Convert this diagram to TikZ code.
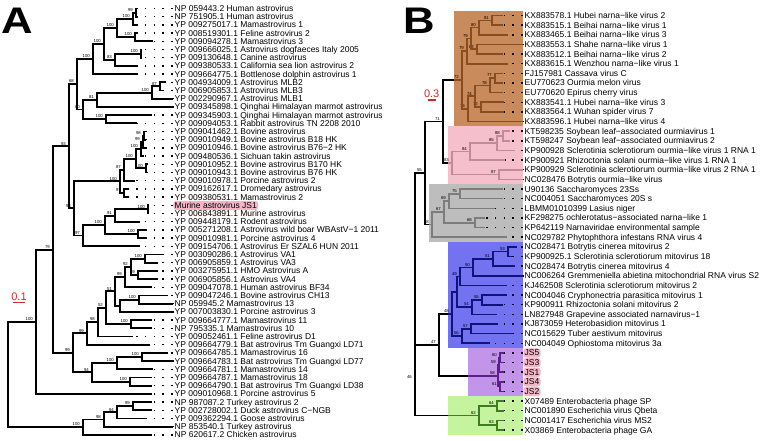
\documentclass[tikz,border=0pt]{standalone}
\usepackage{fontspec}
\setmainfont{Liberation Sans}
\usetikzlibrary{calc}
\definecolor{brbox}{HTML}{C98B5B}
\definecolor{brln}{HTML}{8A4B1E}
\definecolor{pkbox}{HTML}{F5BFCB}
\definecolor{pkln}{HTML}{C4899B}
\definecolor{gybox}{HTML}{BDBDBD}
\definecolor{gyln}{HTML}{7D7D7D}
\definecolor{blbox}{HTML}{7373F2}
\definecolor{blln}{HTML}{12127E}
\definecolor{pubox}{HTML}{C395EA}
\definecolor{puln}{HTML}{5E1E8E}
\definecolor{grbox}{HTML}{C6F39E}
\definecolor{grln}{HTML}{3E7C20}
\definecolor{hlpink}{HTML}{F2B6C6}
\definecolor{scred}{HTML}{CC2A2A}
\tikzset{
  br/.style={line width=1.9pt},
  bB/.style={line width=1.6pt},
  dotln/.style={line width=1.5pt, dash pattern=on 1.5pt off 7.2pt},
  lab/.style={anchor=base west, inner sep=0pt, font=\fontsize{8.5}{9}\selectfont},
  bs/.style={anchor=south east, inner sep=0pt, xshift=-3pt, yshift=1pt, font=\fontsize{4.3}{4.5}\selectfont},
  hl/.style={fill=hlpink, rounded corners=3pt, inner xsep=1.3pt, inner ysep=1.3pt, xshift=-1.3pt, text height=6.2pt, text depth=0.4pt},
  big/.style={anchor=base west, inner sep=0pt, font=\bfseries\fontsize{37}{37}\selectfont, xscale=1.18},
  sc/.style={inner sep=0pt, text=scred, font=\fontsize{11}{11}\selectfont},
}
\newcommand\tipleaf[6][]{%
  \coordinate (#2) at (#4,#3);
  \coordinate (#2-e) at ({#5-2},#3);
  \draw[dotln] (#2-e) -- (#2);
  \node[lab,#1] (#2-tx) at ({#5},{#3+3}) {#6};
}
\newcommand\leafA[5][]{\pgfmathsetmacro\yy{8.5+8.2*(#3-1)}\tipleaf[#1]{#2}{\yy}{#4}{174.5}{#5}}
\newcommand\leafB[5][]{\pgfmathsetmacro\yy{15.5+9.64*(#3-1)}\tipleaf[#1]{#2}{\yy}{#4}{524.5}{#5}}
\newcommand\trnode[6][]{%
  \path let \p1=($(#4)!0.5!(#5)$) in (#3pt,\y1) coordinate (#2);
  \draw[br,#1] (#2) |- (#4);
  \draw[br,#1] (#2) |- (#5);
  \node[bs] (#2-bs) at (#2) {#6};
}
\begin{document}
\begin{tikzpicture}[x=1pt,y=-1pt]
\useasboundingbox (0,0) rectangle (760,440);
% ---------- panel letters and scale bars
\node[big] (pA) at (1.5,33.3) {A};
\node[big] (pB) at (403,33.3) {B};
\node[sc] (scA) at (19,296.5) {0.1};
\coordinate (scA1) at (13,302.5); \coordinate (scA2) at (25,302.5);
\draw[scred, line width=1.6pt] (scA1) -- (scA2);
\node[sc] (scB) at (431.7,93.5) {0.3};
\coordinate (scB1) at (427.5,100); \coordinate (scB2) at (435.5,100);
\draw[scred, line width=1.6pt] (scB1) -- (scB2);
% ---------- clade boxes (panel B)
\fill[brbox] (454,10.7) rectangle (523,126.3);
\fill[pkbox] (448,126.3) rectangle (523,184.2);
\fill[gybox] (429,184.2) rectangle (523,242.0);
\fill[blbox] (448,242.0) rectangle (523,348.1);
\fill[pubox] (468,348.1) rectangle (523,396.3);
\fill[grbox] (448,396.3) rectangle (523,434.8);
% ---------- panel A leaves
\leafA{a1}{1}{138}{NP 059443.2 Human astrovirus}
\leafA{a2}{2}{138}{NP 751905.1 Human astrovirus}
\leafA{a3}{3}{138}{YP 009275017.1 Mamastrovirus 1}
\leafA{a4}{4}{138}{YP 008519301.1 Feline astrovirus 2}
\leafA{a5}{5}{153}{YP 009094278.1 Mamastrovirus 3}
\leafA{a6}{6}{142}{YP 009666025.1 Astrovirus dogfaeces Italy 2005}
\leafA{a7}{7}{142}{YP 009130648.1 Canine astrovirus}
\leafA{a8}{8}{137}{YP 009380533.1 California sea lion astrovirus 2}
\leafA{a9}{9}{137}{YP 009664775.1 Bottlenose dolphin astrovirus 1}
\leafA{a10}{10}{166}{YP 004934009.1 Astrovirus MLB2}
\leafA{a11}{11}{163}{YP 006905853.1 Astrovirus MLB3}
\leafA{a12}{12}{173}{YP 002290967.1 Astrovirus MLB1}
\leafA{a13}{13}{173}{YP 009345898.1 Qinghai Himalayan marmot astrovirus}
\leafA{a14}{14}{152}{YP 009345903.1 Qinghai Himalayan marmot astrovirus}
\leafA{a15}{15}{137}{YP 009094053.1 Rabbit astrovirus TN 2208 2010}
\leafA{a16}{16}{146}{YP 009041462.1 Bovine astrovirus}
\leafA{a17}{17}{146}{YP 009010949.1 Bovine astrovirus B18 HK}
\leafA{a18}{18}{146}{YP 009010946.1 Bovine astrovirus B76−2 HK}
\leafA{a19}{19}{144}{YP 009480536.1 Sichuan takin astrovirus}
\leafA{a20}{20}{148}{YP 009010952.1 Bovine astrovirus B170 HK}
\leafA{a21}{21}{148}{YP 009010943.1 Bovine astrovirus B76 HK}
\leafA{a22}{22}{135}{YP 009010978.1 Porcine astrovirus 2}
\leafA{a23}{23}{129}{YP 009162617.1 Dromedary astrovirus}
\leafA{a24}{24}{129}{YP 009380531.1 Mamastrovirus 2}
\leafA[hl]{a25}{25}{149}{Murine astrovirus JS1}
\leafA{a26}{26}{149}{YP 006843891.1 Murine astrovirus}
\leafA{a27}{27}{140}{YP 009448179.1 Rodent astrovirus}
\leafA{a28}{28}{146}{YP 005271208.1 Astrovirus wild boar WBAstV−1 2011}
\leafA{a29}{29}{146}{YP 009010981.1 Porcine astrovirus 4}
\leafA{a30}{30}{140}{YP 009154706.1 Astrovirus Er SZAL6 HUN 2011}
\leafA{a31}{31}{163}{YP 003090286.1 Astrovirus VA1}
\leafA{a32}{32}{158}{YP 006905859.1 Astrovirus VA3}
\leafA{a33}{33}{158}{YP 003275951.1 HMO Astrovirus A}
\leafA{a34}{34}{158}{YP 006905856.1 Astrovirus VA4}
\leafA{a35}{35}{152}{YP 009047078.1 Human astrovirus BF34}
\leafA{a36}{36}{168}{YP 009047246.1 Bovine astrovirus CH13}
\leafA{a37}{37}{173}{NP 059945.2 Mamastrovirus 13}
\leafA{a38}{38}{173}{YP 007003830.1 Porcine astrovirus 3}
\leafA{a39}{39}{152}{YP 009664777.1 Mamastrovirus 11}
\leafA{a40}{40}{152}{NP 795335.1 Mamastrovirus 10}
\leafA{a41}{41}{133}{YP 009052461.1 Feline astrovirus D1}
\leafA{a42}{42}{150}{YP 009664779.1 Bat astrovirus Tm Guangxi LD71}
\leafA{a43}{43}{168}{YP 009664785.1 Mamastrovirus 16}
\leafA{a44}{44}{173}{YP 009664783.1 Bat astrovirus Tm Guangxi LD77}
\leafA{a45}{45}{153}{YP 009664781.1 Mamastrovirus 14}
\leafA{a46}{46}{152}{YP 009664787.1 Mamastrovirus 18}
\leafA{a47}{47}{152}{YP 009664790.1 Bat astrovirus Tm Guangxi LD38}
\leafA{a48}{48}{152}{YP 009010968.1 Porcine astrovirus 5}
\leafA{a49}{49}{152}{NP 987087.2 Turkey astrovirus 2}
\leafA{a50}{50}{152}{YP 002728002.1 Duck astrovirus C−NGB}
\leafA{a51}{51}{147}{YP 009362294.1 Goose astrovirus}
\leafA{a52}{52}{173}{NP 853540.1 Turkey astrovirus}
\leafA{a53}{53}{152}{NP 620617.2 Chicken astrovirus}
% ---------- panel A internal nodes
\trnode{A1}{136}{a1}{a2}{99}
\trnode{A2}{133}{A1}{a3}{100}
\trnode{A3}{135}{a4}{a5}{100}
\trnode{A4}{117}{A2}{A3}{100}
\trnode{A5}{141}{a6}{a7}{100}
\trnode{A6}{115}{A5}{a8}{83}
\trnode{A7}{104}{A4}{A6}{100}
\trnode{A8}{93}{A7}{a9}{100}
\trnode{B1}{160}{a10}{a11}{87}
\trnode{B2}{152}{B1}{a12}{100}
\trnode{B3}{97}{B2}{a13}{81}
\trnode{B4}{106}{a14}{a15}{100}
\trnode{B5}{83}{B3}{B4}{80}
\trnode{C1}{77}{A8}{B5}{68}
\trnode{bv1}{144}{a16}{a17}{98}
\trnode{bv2}{143}{bv1}{a18}{99}
\trnode{bv3}{141}{bv2}{a19}{100}
\trnode{bv4}{146}{a20}{a21}{100}
\trnode{bv5}{136}{bv3}{bv4}{100}
\trnode{bv6}{124}{bv5}{a22}{87}
\trnode{bv7}{124}{a23}{a24}{97}
\trnode{F}{120}{bv6}{bv7}{100}
\trnode{rd1}{148}{a25}{a26}{100}
\trnode{rd2}{115}{rd1}{a27}{91}
\trnode{rd3}{138}{a28}{a29}{100}
\trnode{rd4}{105}{rd2}{rd3}{100}
\trnode{G}{83}{rd4}{a30}{97}
\trnode{E}{74}{F}{G}{93}
\trnode{D}{69}{C1}{E}{93}
\trnode{Va}{145}{a31}{a32}{100}
\trnode{Vb}{138}{a33}{a34}{89}
\trnode{Vc}{131}{Va}{Vb}{92}
\trnode{Vd}{125}{Vc}{a35}{99}
\trnode{X}{139}{a36}{a37}{100}
\trnode{Y}{120}{X}{a38}{}
\trnode{T}{115}{Vd}{Y}{51}
\trnode{U}{131}{a39}{a40}{100}
\trnode{S}{106}{T}{U}{52}
\trnode{R}{98}{S}{a41}{98}
\trnode{P}{87}{R}{a42}{99}
\trnode{Qc}{142}{a43}{a44}{100}
\trnode{Qa}{117}{Qc}{a45}{100}
\trnode{Qb}{130}{a46}{a47}{100}
\trnode{Q}{92}{Qa}{Qb}{94}
\trnode{I}{73}{P}{Q}{99}
\trnode{H}{53}{D}{I}{79}
\trnode{J}{36}{H}{a48}{100}
\trnode{O}{133}{a49}{a50}{99}
\trnode{N}{117}{O}{a51}{94}
\trnode{M}{104}{N}{a52}{98}
\trnode{L}{83}{M}{a53}{100}
\trnode{K}{8}{J}{L}{}
% ---------- panel B leaves
\leafB{b1}{1}{503}{KX883578.1 Hubei narna−like virus 2}
\leafB{b2}{2}{503}{KX883515.1 Beihai narna−like virus 1}
\leafB{b3}{3}{508}{KX883465.1 Beihai narna−like virus 3}
\leafB{b4}{4}{523}{KX883553.1 Shahe narna−like virus 1}
\leafB{b5}{5}{503}{KX883512.1 Beihai narna−like virus 2}
\leafB{b6}{6}{508}{KX883615.1 Wenzhou narna−like virus 1}
\leafB{b7}{7}{503}{FJ157981 Cassava virus C}
\leafB{b8}{8}{503}{EU770623 Ourmia melon virus}
\leafB{b9}{9}{503}{EU770620 Epirus cherry virus}
\leafB{b10}{10}{504}{KX883541.1 Hubei narna−like virus 3}
\leafB{b11}{11}{504}{KX883564.1 Wuhan spider virus 7}
\leafB{b12}{12}{523}{KX883596.1 Hubei narna−like virus 4}
\leafB{b13}{13}{510}{KT598235 Soybean leaf−associated ourmiavirus 1}
\leafB{b14}{14}{510}{KT598247 Soybean leaf−associated ourmiavirus 2}
\leafB{b15}{15}{515}{KP900928 Sclerotinia sclerotiorum ourmia−like virus 1 RNA 1}
\leafB{b16}{16}{505}{KP900921 Rhizoctonia solani ourmia−like virus 1 RNA 1}
\leafB{b17}{17}{523}{KP900929 Sclerotinia sclerotiorum ourmia−like virus 2 RNA 1}
\leafB{b18}{18}{523}{NC028476 Botrytis ourmia−like virus}
\leafB{b19}{19}{503}{U90136 Saccharomyces 23Ss}
\leafB{b20}{20}{503}{NC004051 Saccharomyces 20S s}
\leafB{b21}{21}{495}{LBMM01010399 Lasius niger}
\leafB{b22}{22}{485}{KF298275 ochlerotatus−associated narna−like 1}
\leafB{b23}{23}{485}{KP642119 Narnaviridae environmental sample}
\leafB{b24}{24}{507}{NC029782 Phytophthora infestans RNA virus 4}
\leafB{b25}{25}{517}{NC028471 Botrytis cinerea mitovirus 2}
\leafB{b26}{26}{512}{KP900925.1 Sclerotinia sclerotiorum mitovirus 18}
\leafB{b27}{27}{515}{NC028474 Botrytis cinerea mitovirus 4}
\leafB{b28}{28}{523}{NC006264 Gremmeniella abietina mitochondrial RNA virus S2}
\leafB{b29}{29}{507}{KJ462508 Sclerotinia sclerotiorum mitovirus 2}
\leafB{b30}{30}{507}{NC004046 Cryphonectria parasitica mitovirus 1}
\leafB{b31}{31}{503}{KP900911 Rhizoctonia solani mitovirus 2}
\leafB{b32}{32}{497}{LN827948 Grapevine associated narnavirus−1}
\leafB{b33}{33}{498}{KJ873059 Heterobasidion mitovirus 1}
\leafB{b34}{34}{513}{NC015629 Tuber aestivum mitovirus}
\leafB{b35}{35}{490}{NC004049 Ophiostoma mitovirus 3a}
\leafB[hl]{b36}{36}{504}{JS5}
\leafB[hl]{b37}{37}{504}{JS3}
\leafB[hl]{b38}{38}{504}{JS1}
\leafB[hl]{b39}{39}{504}{JS4}
\leafB[hl]{b40}{40}{504}{JS2}
\leafB{b41}{41}{504}{X07489 Enterobacteria phage SP}
\leafB{b42}{42}{504}{NC001890 Escherichia virus Qbeta}
\leafB{b43}{43}{504}{NC001417 Escherichia virus MS2}
\leafB{b44}{44}{504}{X03869 Enterobacteria phage GA}
% ---------- panel B clades
\trnode[bB,brln]{Bn1}{492}{b1}{b2}{81}
\trnode[bB,brln]{Bn2}{479}{Bn1}{b3}{80}
\trnode[bB,brln]{Bn4}{477}{b4}{b5}{82}
\trnode[bB,brln]{Bn3}{471}{Bn2}{Bn4}{79}
\trnode[bB,brln]{Bn5}{467}{Bn3}{b6}{79}
\trnode[bB,brln]{Bn8}{495}{b7}{b8}{77}
\trnode[bB,brln]{Bn9}{490}{Bn8}{b9}{78}
\trnode[bB,brln]{Bn11}{481}{b10}{b11}{72}
\trnode[bB,brln]{Bn10}{475}{Bn9}{Bn11}{74}
\trnode[bB,brln]{Bn12}{468}{Bn10}{b12}{76}
\trnode[bB,brln]{Bn6}{462}{Bn5}{Bn12}{72}
\trnode[bB,pkln]{Bp1}{503}{b13}{b14}{88}
\trnode[bB,pkln]{Bp2}{497}{Bp1}{b15}{85}
\trnode[bB,pkln]{Bp3}{470}{Bp2}{b16}{84}
\trnode[bB,pkln]{Bp4}{499}{b17}{b18}{87}
\trnode[bB,pkln]{Bp5}{452}{Bp3}{Bp4}{83}
\trnode[bB,gyln]{Bg1}{460}{b19}{b20}{75}
\trnode[bB,gyln]{Bg2}{449}{Bg1}{b21}{69}
\trnode[bB,gyln]{Bg4}{475}{b22}{b23}{68}
\trnode[bB,gyln]{Bg3}{444}{Bg2}{Bg4}{67}
\trnode[bB,gyln]{Bg0}{432}{Bg3}{b24}{58}
\trnode[bB,blln]{Bb1}{508}{b25}{b26}{53}
\trnode[bB,blln]{Bb2}{493}{Bb1}{b27}{51}
\trnode[bB,blln]{Bb3}{473}{Bb2}{b28}{50}
\trnode[bB,blln]{Bb4}{460}{Bb3}{b29}{49}
\trnode[bB,blln]{Bb5}{482}{b30}{b31}{55}
\trnode[bB,blln]{Bb6}{472}{Bb5}{b32}{54}
\trnode[bB,blln]{BbX}{457}{Bb4}{Bb6}{}
\trnode[bB,blln]{Bb7}{471}{b33}{b34}{57}
\trnode[bB,blln]{Bb8}{462}{Bb7}{b35}{56}
\trnode[bB,blln]{Bb0}{452}{BbX}{Bb8}{48}
\trnode[bB,puln]{P1}{500}{b36}{b37}{60}
\trnode[bB,puln]{P2}{499}{P1}{b38}{59}
\trnode[bB,puln]{P3}{500}{b39}{b40}{61}
\trnode[bB,puln]{P4}{498}{P2}{P3}{58}
\trnode[bB,grln]{G1}{497}{b41}{b42}{64}
\trnode[bB,grln]{G2}{497}{b43}{b44}{63}
\trnode[bB,grln]{G0}{479}{G1}{G2}{62}
% ---------- panel B trunk
\trnode[bB]{Bq}{443}{Bn6}{Bp5}{71}
\trnode[bB]{Br}{425}{Bq}{Bg0}{55}
\trnode[bB]{Bs}{439}{Bb0}{P4}{47}
\trnode[bB]{N46}{415}{Bs}{G0}{46}
\trnode[bB]{R0}{415}{Br}{N46}{}
% coloured parts of the stems inside the boxes
\coordinate (brL) at (454,0); \coordinate (pkL) at (448,0); \coordinate (gyL) at (429,0);
\coordinate (blL) at (448,0); \coordinate (puL) at (468,0); \coordinate (grL) at (448,0);
\draw[bB,brln] (brL |- Bn6) -- (Bn6);
\draw[bB,pkln] (pkL |- Bp5) -- (Bp5);
\draw[bB,gyln] (gyL |- Bg0) -- (Bg0);
\draw[bB,blln] (blL |- Bb0) -- (Bb0);
\draw[bB,puln] (puL |- P4) -- (P4);
\draw[bB,grln] (grL |- G0) -- (G0);
\end{tikzpicture}
\end{document}
